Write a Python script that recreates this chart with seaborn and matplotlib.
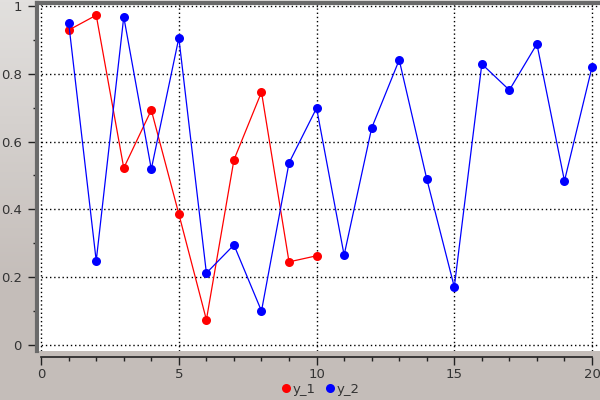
import numpy as np
import pandas as pd
import matplotlib
matplotlib.use('Agg')
import matplotlib.pyplot as plt
import matplotlib.colors as mcolors
from matplotlib.ticker import MultipleLocator
import seaborn as sns

# chart data
x_1 = [1, 2, 3, 4, 5, 6, 7, 8, 9, 10]
y_1 = [0.929, 0.973, 0.522, 0.693, 0.386, 0.074, 0.546, 0.746, 0.245, 0.263]
x_2 = list(range(1, 21))
y_2 = [0.950, 0.248, 0.968, 0.519, 0.906, 0.212, 0.295, 0.100, 0.537, 0.699,
       0.265, 0.640, 0.841, 0.490, 0.171, 0.829, 0.752, 0.888, 0.484, 0.820]
series_names = ["y_1", "y_2"]
series_colors = ["#ff0000", "#0000ff"]

df = pd.concat([
    pd.DataFrame({"x": x_1, "y": y_1, "series": series_names[0]}),
    pd.DataFrame({"x": x_2, "y": y_2, "series": series_names[1]}),
])

sns.set_theme(style="white")
plt.rcParams['font.family'] = ['DejaVu Sans']

fig = plt.figure(figsize=(6, 4), dpi=100)
fig.patch.set_facecolor("#c4bdb9")

# gradient backdrop (lighter at top)
bg = fig.add_axes([0, 0, 1, 1], zorder=-10)
cmap = mcolors.LinearSegmentedColormap.from_list("bg", ["#e2e0de", "#c4bdb9"])
grad = np.clip(np.linspace(0, 1.4, 200), 0, 1).reshape(-1, 1)
bg.imshow(grad, aspect="auto", cmap=cmap, extent=[0, 1, 0, 1], origin="upper")
bg.set_axis_off()

ax = fig.add_axes([37 / 600, 1 - 351 / 400, 563 / 600, 348 / 400])
ax.set_facecolor("white")

sns.lineplot(data=df, x="x", y="y", hue="series", palette=series_colors,
             marker="o", markersize=6.5, markeredgewidth=0, linewidth=0.9,
             ax=ax, legend=False)

ax.set_xlim(-0.15, 20.29)
ax.set_ylim(-0.018, 1.009)
ax.xaxis.set_major_locator(MultipleLocator(5))
ax.xaxis.set_minor_locator(MultipleLocator(1))
ax.yaxis.set_minor_locator(MultipleLocator(0.1))
ax.set_yticks([0, 0.2, 0.4, 0.6, 0.8, 1.0])
ax.set_yticklabels(["0", "0.2", "0.4", "0.6", "0.8", "1"])
ax.set_xlabel("")
ax.set_ylabel("")

ax.grid(True, which="major", color="black", linestyle=(0, (1, 2)), linewidth=1.0)

ax.spines["right"].set_visible(False)
ax.spines["top"].set_color("#6a6a6a")
ax.spines["top"].set_linewidth(3)
ax.spines["left"].set_color("#6a6a6a")
ax.spines["left"].set_linewidth(3)
ax.spines["bottom"].set_position(("outward", 4))
ax.spines["bottom"].set_bounds(0, 20)
ax.spines["bottom"].set_color("#222222")
ax.spines["bottom"].set_linewidth(1.2)

ax.tick_params(axis="y", which="major", direction="out", length=6.5, width=1,
               color="#222222", labelcolor="#333333", labelsize=9.5, pad=4.5, left=True)
ax.tick_params(axis="x", which="major", direction="out", length=6, width=1,
               color="#222222", labelcolor="#333333", labelsize=9.5, pad=2, bottom=True)
ax.tick_params(axis="both", which="minor", direction="out", length=3, width=1,
               color="#222222", bottom=True, left=True)

handles = [plt.Line2D([], [], marker="o", linestyle="none", color=c,
                      markersize=6.5, markeredgewidth=0) for c in series_colors]
fig.legend(handles, series_names, loc="center", bbox_to_anchor=(320 / 600, 1 - 389 / 400),
           ncol=2, frameon=False, fontsize=9.5, handletextpad=0.1,
           columnspacing=0.7, handlelength=0.8, labelcolor="#333333",
           borderpad=0, borderaxespad=0)

fig.savefig("out.png", dpi=100, facecolor=fig.get_facecolor())
